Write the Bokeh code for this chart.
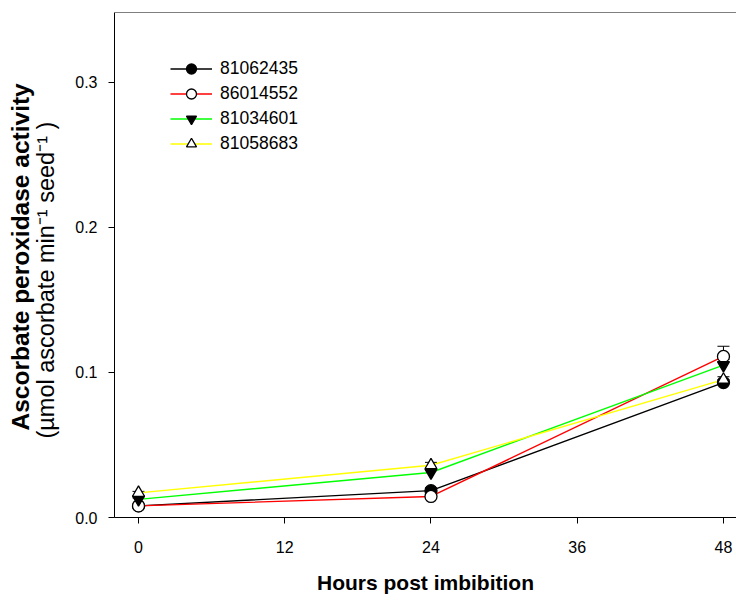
from bokeh.plotting import figure
from bokeh.models import (ColumnDataSource, Range1d, FixedTicker, Legend, LegendItem,
                          Span, Title, Whisker, TeeHead, PrintfTickFormatter)
from bokeh.embed import file_html
from bokeh.resources import INLINE

# ---- data ----
hours = [0, 24, 48]
names = ["81062435", "86014552", "81034601", "81058683"]
v_81062435 = [0.0080, 0.0185, 0.0930]
v_86014552 = [0.0080, 0.0145, 0.1110]
v_81034601 = [0.0125, 0.0310, 0.1050]
v_81058683 = [0.0170, 0.0360, 0.0950]
e_81062435 = [0.001, 0.002, 0.002]
e_86014552 = [0.001, 0.002, 0.007]
e_81034601 = [0.001, 0.002, 0.004]
e_81058683 = [0.001, 0.002, 0.002]
x_ticks = [0, 12, 24, 36, 48]
y_ticks = [0.0, 0.1, 0.2, 0.3]
y_title = "Ascorbate peroxidase activity"
y_units = "(µmol ascorbate min\u207b\u00b9  seed\u207b\u00b9 )"
x_title = "Hours post imbibition"

series = [
    (names[0], v_81062435, e_81062435, "#000000", "circle", "#000000"),
    (names[1], v_86014552, e_86014552, "#ff0000", "circle", "#ffffff"),
    (names[2], v_81034601, e_81034601, "#00ff00", "inverted_triangle", "#000000"),
    (names[3], v_81058683, e_81058683, "#ffff00", "triangle", "#ffffff"),
]

FONT = "Liberation Sans"
W, H = 736, 602
FL, FT, FB = 114, 12, 85          # frame borders
p = figure(width=W, height=H, output_backend="svg", toolbar_location=None,
           x_range=Range1d(-1.97, 49.07), y_range=Range1d(0, 0.348),
           min_border_left=FL, min_border_right=0, min_border_top=FT, min_border_bottom=FB)
p.outline_line_color = None
p.grid.grid_line_color = None
p.background_fill_color = "white"
p.border_fill_color = "white"

for ax in (p.xaxis[0], p.yaxis[0]):
    ax.axis_line_color = "black"
    ax.axis_line_width = 1
    ax.major_tick_line_color = "black"
    ax.major_tick_in = 0
    ax.major_tick_out = 6
    ax.minor_tick_line_color = None
    ax.major_label_text_font = FONT
    ax.major_label_text_font_size = "16px"
    ax.major_label_text_color = "black"

p.xaxis.ticker = FixedTicker(ticks=x_ticks)
p.yaxis.ticker = FixedTicker(ticks=y_ticks)
p.yaxis.formatter = PrintfTickFormatter(format="%.1f")
p.xaxis.major_label_standoff = 17
p.yaxis.major_label_standoff = 11
p.xaxis.axis_label = x_title
p.xaxis.axis_label_text_font = FONT
p.xaxis.axis_label_text_font_style = "bold"
p.xaxis.axis_label_text_font_size = "21px"
p.xaxis.axis_label_text_color = "black"
p.xaxis.axis_label_standoff = 15

p.add_layout(Span(location=0.348, dimension="width", line_color="black", line_width=1))

line_rs = []
for name, vals, errs, col, mk, fill in series:
    src = ColumnDataSource(dict(x=hours, y=vals, up=[v + e for v, e in zip(vals, errs)]))
    lr = p.line("x", "y", source=src, line_color=col, line_width=1.4)
    line_rs.append((lr, src))

items = []
for (name, vals, errs, col, mk, fill), (lr, src) in zip(series, line_rs):
    wk = Whisker(source=src, base="x", upper="up", lower="y", line_color="black", line_width=1,
                 upper_head=TeeHead(size=12, line_color="black", line_width=1), lower_head=None)
    p.add_layout(wk)
    sr = p.scatter("x", "y", source=src, marker=mk, size=12, fill_color=fill,
                   line_color="black", line_width=1.3)
    items.append(LegendItem(label=name, renderers=[lr, sr]))

legend = Legend(items=items, location=(56, 361), orientation="vertical",
                glyph_width=42, glyph_height=25, spacing=0, label_standoff=8,
                label_text_font=FONT, label_text_font_size="17.5px", label_text_color="black",
                border_line_color=None, background_fill_alpha=0,
                padding=0, margin=0)
p.add_layout(legend, "center")

# ---- y axis title: two stacked titles on the left side ----
t2 = Title(text=y_units, align="left", text_font=FONT, text_font_size="23.5px",
           text_font_style="normal", text_color="black", standoff=27, offset=79)
p.add_layout(t2, "left")
t1 = Title(text=y_title, align="left", text_font=FONT, text_font_size="24.5px",
           text_font_style="bold", text_color="black", standoff=-32, offset=87)
p.add_layout(t1, "left")

open("out.html", "w").write(file_html(p, INLINE))
